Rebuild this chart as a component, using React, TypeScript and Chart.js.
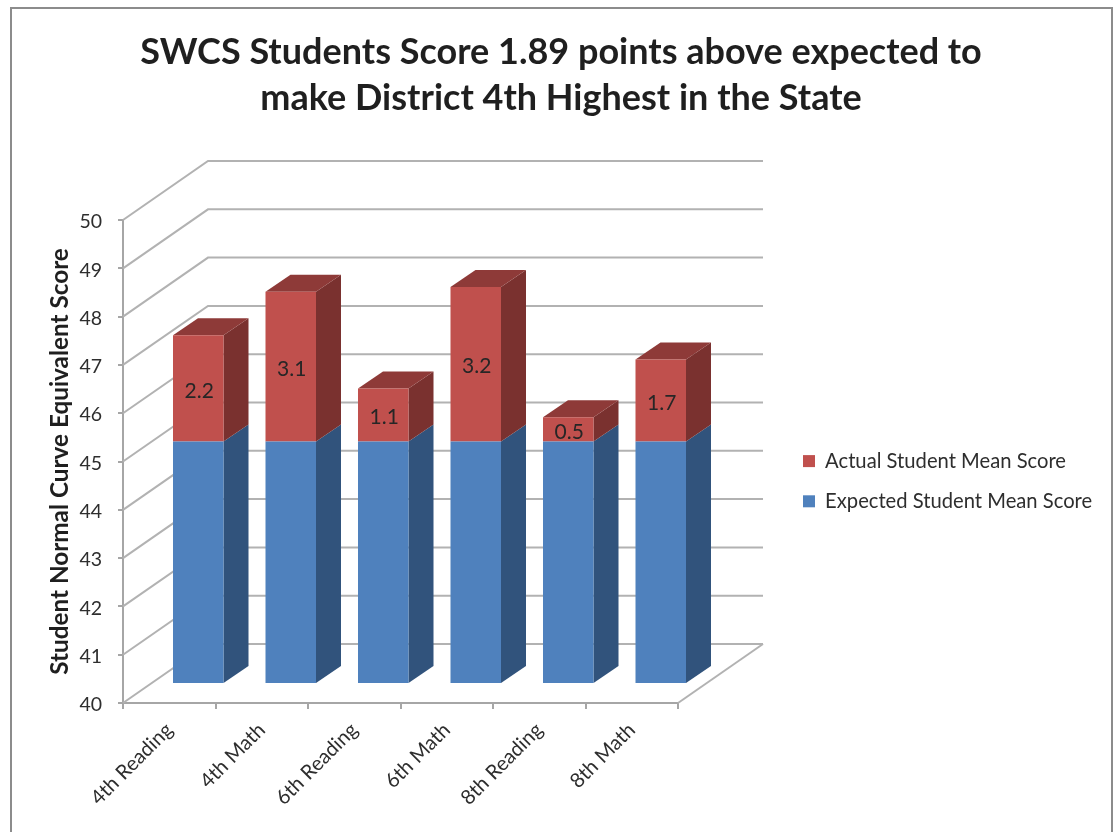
import React, { useEffect, useRef } from "react";
import { Chart, registerables } from "chart.js";

Chart.register(...registerables);

const categories = ["4th Reading", "4th Math", "6th Reading", "6th Math", "8th Reading", "8th Math"];
const expectedScores = [45, 45, 45, 45, 45, 45];
const actualGains = [2.2, 3.1, 1.1, 3.2, 0.5, 1.7];
const titleLines = ["SWCS Students Score 1.89 points above expected to", "make District 4th Highest in the State"];
const yAxisTitle = "Student Normal Curve Equivalent Score";
const expectedLabel = "Expected Student Mean Score";
const actualLabel = "Actual Student Mean Score";

const FONT = "Lato, 'Open Sans', sans-serif";
const GRID = "#b2b2b2";
const AXIS = "#a6a6a6";
const TEXT = "#2e2e2e";

// 3D projection offsets
const WALL = { dx: 85, dy: -59 };
const BAR_SHIFT = { dx: 29, dy: -20 };
const BAR_DEPTH = { dx: 25, dy: -17 };

const blueFront = "#4f81bd";
const blueSide = "#31537c";
const redFront = "#c0504d";
const redSide = "#7a312f";
const redTop = "#8e3a38";

function poly(ctx: CanvasRenderingContext2D, pts: number[][], fill: string) {
  ctx.beginPath();
  pts.forEach(([x, y], i) => (i ? ctx.lineTo(x, y) : ctx.moveTo(x, y)));
  ctx.closePath();
  ctx.fillStyle = fill;
  ctx.fill();
}

const scene3d = {
  id: "scene3d",
  beforeLayout(chart: any) {
    const legend = chart.legend;
    if (legend && !legend.__wrapped) {
      const fit = legend.fit;
      legend.fit = function () {
        fit.call(this);
        this.width = 439;
      };
      legend.__wrapped = true;
    }
  },
  afterLayout(chart: any) {
    const legend = chart.legend;
    const w = legend.width;
    legend.left = 783;
    legend.right = 783 + w;
    legend.top = 431;
    legend.bottom = 800;
  },
  beforeDraw(chart: any) {
    const { ctx, width, height } = chart;
    ctx.save();
    ctx.fillStyle = "#ffffff";
    ctx.fillRect(0, 0, width, height);
    ctx.strokeStyle = "#8c8c8c";
    ctx.lineWidth = 2;
    ctx.strokeRect(11, 8, 1101, height + 20);
    ctx.restore();
  },
  beforeDatasetsDraw(chart: any) {
    const { ctx, scales } = chart;
    const y = scales.y;
    const x = scales.x;
    ctx.save();
    ctx.strokeStyle = GRID;
    ctx.lineWidth = 2;
    y.ticks.forEach((t: any) => {
      const py = y.getPixelForValue(t.value);
      ctx.beginPath();
      ctx.moveTo(x.left, py);
      ctx.lineTo(x.left + WALL.dx, py + WALL.dy);
      ctx.lineTo(x.right + WALL.dx, py + WALL.dy);
      ctx.stroke();
    });
    const floorY = y.getPixelForValue(y.min);
    ctx.beginPath();
    ctx.moveTo(x.right, floorY);
    ctx.lineTo(x.right + WALL.dx, floorY + WALL.dy);
    ctx.stroke();
    ctx.restore();

    ctx.save();
    ctx.translate(BAR_SHIFT.dx, BAR_SHIFT.dy);
    chart.data.datasets.forEach((_: any, di: number) => {
      const side = di === 0 ? blueSide : redSide;
      chart.getDatasetMeta(di).data.forEach((el: any) => {
        const r = el.x + el.width / 2;
        const l = el.x - el.width / 2;
        const d = BAR_DEPTH;
        const base = Math.min(el.base, y.bottom);
        poly(ctx, [[r, el.y], [r + d.dx, el.y + d.dy], [r + d.dx, base + d.dy], [r, base]], side);
        if (di === 1) {
          poly(ctx, [[l, el.y], [l + d.dx, el.y + d.dy], [r + d.dx, el.y + d.dy], [r, el.y]], redTop);
        }
      });
    });
  },
  afterDatasetsDraw(chart: any) {
    const { ctx } = chart;
    ctx.font = `21px ${FONT}`;
    ctx.fillStyle = "#262626";
    ctx.textAlign = "center";
    ctx.textBaseline = "middle";
    chart.getDatasetMeta(1).data.forEach((el: any, i: number) => {
      ctx.fillText(actualGains[i].toFixed(1), el.x + 1, (el.y + el.base) / 2 + 2.5);
    });
    ctx.restore();
  },
};

export default function App() {
  const ref = useRef<HTMLCanvasElement>(null);
  useEffect(() => {
    const chart = new Chart(ref.current as HTMLCanvasElement, {
      type: "bar",
      data: {
        labels: categories,
        datasets: [
          { label: expectedLabel, data: expectedScores, backgroundColor: blueFront, borderWidth: 0 },
          { label: actualLabel, data: actualGains, backgroundColor: redFront, borderWidth: 0 },
        ],
      },
      plugins: [scene3d],
      options: {
        animation: false,
        responsive: false,
        layout: { padding: { left: 5, right: 0, top: 0, bottom: 0 } },
        datasets: { bar: { categoryPercentage: 1, barPercentage: 0.546 } },
        plugins: {
          tooltip: { enabled: false },
          title: {
            display: true,
            text: titleLines,
            color: "#1f1f1f",
            font: { family: FONT, size: 36, weight: "bold", lineHeight: 1.278 },
            padding: { top: 29, bottom: 99 },
          },
          legend: {
            position: "right",
            align: "start",
            reverse: true,
            labels: {
              color: TEXT,
              boxWidth: 12,
              boxHeight: 12,
              padding: 20,
              font: { family: FONT, size: 20.2 },
            },
          },
        },
        scales: {
          x: {
            stacked: true,
            grid: { drawOnChartArea: false, color: AXIS, lineWidth: 2, tickLength: 6, tickColor: AXIS },
            border: { color: AXIS, width: 2 },
            ticks: {
              color: TEXT,
              font: { family: FONT, size: 20.2 },
              minRotation: 45,
              maxRotation: 45,
              padding: 9,
            },
            afterFit: (s: any) => {
              s.height = 129;
            },
          },
          y: {
            stacked: true,
            min: 40,
            max: 50,
            grid: { drawOnChartArea: false, color: AXIS, lineWidth: 2, tickLength: 5, tickColor: AXIS },
            border: { color: AXIS, width: 2 },
            ticks: { stepSize: 1, color: TEXT, font: { family: FONT, size: 19.5 }, padding: 16, labelOffset: 2 },
            title: {
              display: true,
              text: yAxisTitle,
              color: "#1f1f1f",
              font: { family: FONT, size: 24.3, weight: "bold", lineHeight: 1.2 },
              padding: { top: 41, bottom: 0 },
            },
            afterFit: (s: any) => {
              s.width = 118;
            },
          },
        },
      },
    } as any);
    return () => chart.destroy();
  }, []);
  return (
    <div style={{ position: "fixed", left: 0, top: 0, width: 1117, height: 832, background: "#fff" }}>
      <canvas ref={ref} width={1117} height={832} style={{ display: "block" }} />
    </div>
  );
}
